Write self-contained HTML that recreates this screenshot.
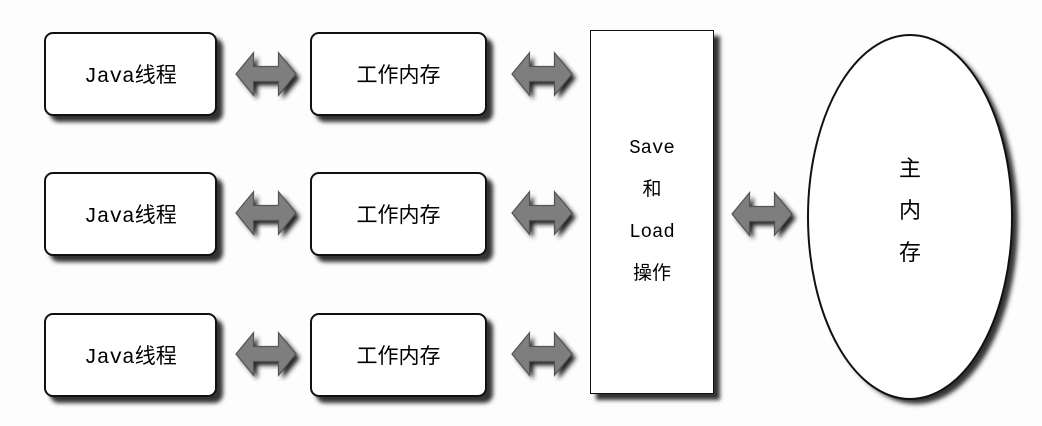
<!DOCTYPE html>
<html><head><meta charset="utf-8"><style>
body{margin:0;width:1042px;height:426px;background:#fdfdfd;position:relative;overflow:hidden;font-family:"Liberation Mono","Noto Sans CJK SC",monospace;}
.b{position:absolute;background:#fff;border:2px solid #111;border-radius:9px;box-shadow:6px 6px 4px #333;display:flex;align-items:center;justify-content:center;font-size:21px;color:#000;box-sizing:border-box}
.sl{position:absolute;left:590px;top:30px;width:124px;height:364px;background:#fff;border:1.5px solid #111;box-shadow:6px 6px 4px #333;box-sizing:border-box;text-align:center;font-size:19px;line-height:42px;padding-top:96px;color:#000}
svg{position:absolute;left:0;top:0}
</style></head><body>
<svg width="1042" height="426">
<defs>
<filter id="s" x="-20%" y="-20%" width="150%" height="150%"><feGaussianBlur stdDeviation="2.5"/></filter>
<g id="ar"><path transform="scale(1.25)" d="M0,0 L14,-17 L14,-6 L34,-6 L34,-17 L48,0 L34,17 L34,6 L14,6 L14,17 Z"/></g>
</defs>
<ellipse cx="916" cy="222" rx="102" ry="182" fill="#333" filter="url(#s)"/>
<ellipse cx="910" cy="217" rx="102" ry="182" fill="#fff" stroke="#111" stroke-width="2"/>
<g fill="#222" filter="url(#s)">
<use href="#ar" x="240" y="78"/><use href="#ar" x="516" y="78"/>
<use href="#ar" x="240" y="217"/><use href="#ar" x="516" y="217"/>
<use href="#ar" x="240" y="358"/><use href="#ar" x="516" y="358"/>
<use href="#ar" x="736" y="218"/>
</g>
<g fill="#7e7e7e" stroke="#555" stroke-width="1">
<use href="#ar" x="236" y="74"/><use href="#ar" x="512" y="74"/>
<use href="#ar" x="236" y="213"/><use href="#ar" x="512" y="213"/>
<use href="#ar" x="236" y="354"/><use href="#ar" x="512" y="354"/>
<use href="#ar" x="732" y="214"/>
</g>
</svg>
<div class="b" style="left:44px;top:32px;width:173px;height:84px">Java线程</div>
<div class="b" style="left:310px;top:32px;width:177px;height:84px">工作内存</div>
<div class="b" style="left:44px;top:172px;width:173px;height:84px">Java线程</div>
<div class="b" style="left:310px;top:172px;width:177px;height:84px">工作内存</div>
<div class="b" style="left:44px;top:313px;width:173px;height:84px">Java线程</div>
<div class="b" style="left:310px;top:313px;width:177px;height:84px">工作内存</div>
<div class="sl">Save<br>和<br>Load<br>操作</div>
<div style="position:absolute;left:890px;top:150px;width:40px;text-align:center;font-size:22px;line-height:42px;color:#000">主<br>内<br>存</div>
</body></html>
